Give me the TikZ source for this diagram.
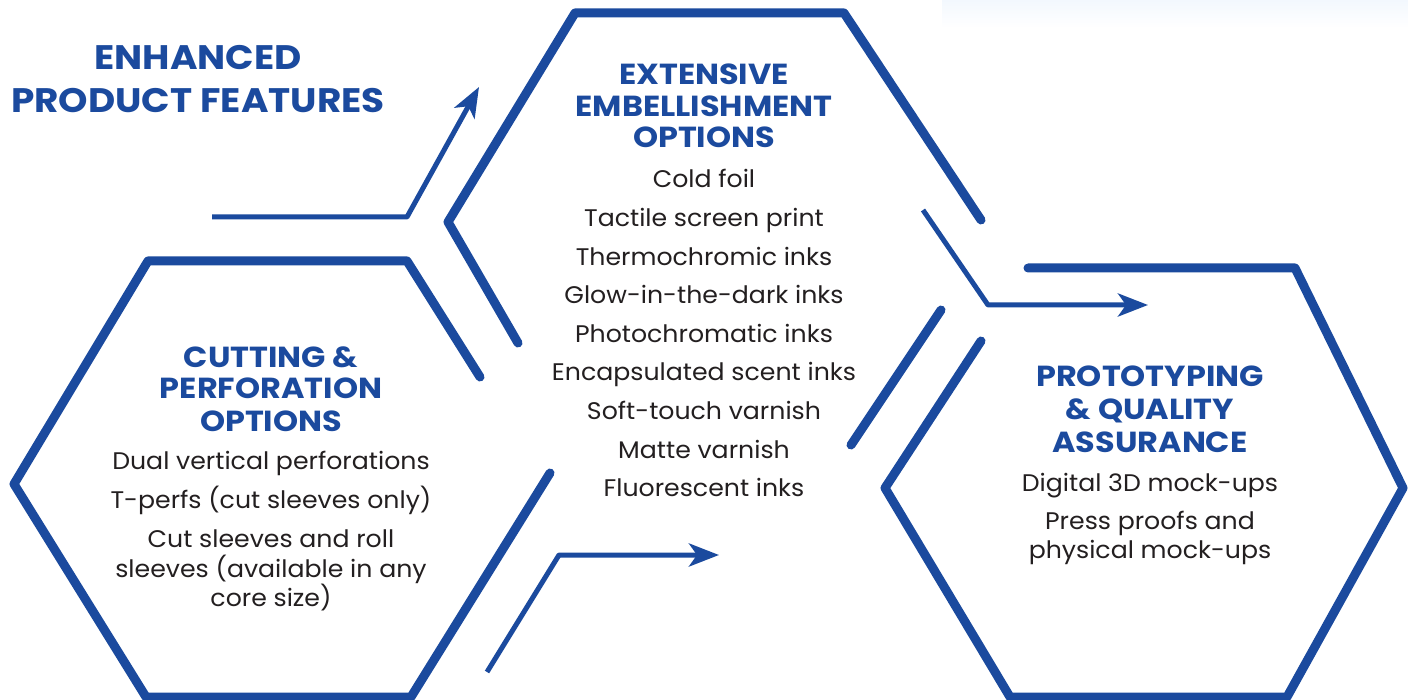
\documentclass[tikz,border=0pt]{standalone}
\usepackage{fontspec}
\setmainfont{Poppins}[FakeStretch=1.05]
\newfontfamily\headfont{Poppins}[FakeStretch=1.1]
\usetikzlibrary{arrows.meta}
\definecolor{brandblue}{RGB}{27,74,158}
\definecolor{inktext}{RGB}{35,31,32}
\definecolor{paleblue}{RGB}{243,248,254}
\tikzset{
  hexline/.style={draw=brandblue, line width=9pt, line cap=round, line join=round},
  flowarrow/.style={draw=brandblue, line width=5pt, line join=round, -{Stealth[length=30pt,width=23pt,inset=8pt]}},
  titletxt/.style={anchor=base, text=brandblue, inner sep=0pt, font=\headfont\bfseries\fontsize{34}{34}\selectfont},
  headtxt/.style={anchor=base, text=brandblue, inner sep=0pt, font=\headfont\bfseries\fontsize{29}{29}\selectfont},
  bodytxt/.style={anchor=base, text=inktext, inner sep=0pt, font=\fontsize{24}{24}\selectfont}
}
\begin{document}
\begin{tikzpicture}[x=1pt,y=-1pt]
\useasboundingbox (0,0) rectangle (1408,700);
\fill[white] (0,0) rectangle (1408,700);
\shade[top color=paleblue, bottom color=white] (942,0) rectangle (1408,28);

% ---------- title ----------
\node[titletxt] (title1) at (198,70) {ENHANCED};
\node[titletxt] (title2) at (198,113) {PRODUCT FEATURES};

% ---------- hexagon corner points ----------
% left hexagon
\coordinate (La) at (480,377);
\coordinate (Lb) at (407,261);
\coordinate (Lc) at (148,261);
\coordinate (Ld) at (14,484);
\coordinate (Le) at (146,697);
\coordinate (Lf) at (411,697);
\coordinate (Lg) at (550,473);
% middle hexagon
\coordinate (Ma) at (518,343);
\coordinate (Mb) at (448,222);
\coordinate (Mc) at (575,13);
\coordinate (Md) at (844,13);
\coordinate (Me) at (981,220);
\coordinate (Mf) at (941,310);
\coordinate (Mg) at (851,445);
% right hexagon
\coordinate (Ra) at (981,341);
\coordinate (Rb) at (885,488);
\coordinate (Rc) at (1010,697);
\coordinate (Rd) at (1287,697);
\coordinate (Re) at (1403,488);
\coordinate (Rf) at (1295,268);
\coordinate (Rg) at (1028,268);

\draw[hexline] (La) -- (Lb) -- (Lc) -- (Ld) -- (Le) -- (Lf) -- (Lg);
\draw[hexline] (Ma) -- (Mb) -- (Mc) -- (Md) -- (Me);
\draw[hexline] (Mf) -- (Mg);
\draw[hexline] (Ra) -- (Rb) -- (Rc) -- (Rd) -- (Re) -- (Rf) -- (Rg);

% ---------- arrows ----------
\coordinate (A1s) at (212,217);
\coordinate (A1k) at (407,217);
\coordinate (A1t) at (479,87);
\coordinate (A2s) at (923,210);
\coordinate (A2k) at (988,305);
\coordinate (A2t) at (1148,305);
\coordinate (A3s) at (487,672);
\coordinate (A3k) at (559,555);
\coordinate (A3t) at (719,555);
\draw[flowarrow] (A1s) -- (A1k) -- (A1t);
\draw[flowarrow] (A2s) -- (A2k) -- (A2t);
\draw[flowarrow] (A3s) -- (A3k) -- (A3t);

% ---------- middle block ----------
\node[headtxt] (mh1) at (704,85) {EXTENSIVE};
\node[headtxt] (mh2) at (704,117) {EMBELLISHMENT};
\node[headtxt] (mh3) at (704,148) {OPTIONS};
\node[bodytxt] (mb1) at (704,188) {Cold foil};
\node[bodytxt] (mb2) at (704,226.6) {Tactile screen print};
\node[bodytxt] (mb3) at (704,265.2) {Thermochromic inks};
\node[bodytxt] (mb4) at (704,303.8) {Glow-in-the-dark inks};
\node[bodytxt] (mb5) at (704,342.4) {Photochromatic inks};
\node[bodytxt] (mb6) at (704,381) {Encapsulated scent inks};
\node[bodytxt] (mb7) at (704,419.6) {Soft-touch varnish};
\node[bodytxt] (mb8) at (704,458.2) {Matte varnish};
\node[bodytxt] (mb9) at (704,496.8) {Fluorescent inks};

% ---------- left block ----------
\node[headtxt] (lh1) at (271,367) {CUTTING \&};
\node[headtxt] (lh2) at (271,399) {PERFORATION};
\node[headtxt] (lh3) at (271,431) {OPTIONS};
\node[bodytxt] (lb1) at (271,469) {Dual vertical perforations};
\node[bodytxt] (lb2) at (271,508) {T-perfs (cut sleeves only)};
\node[bodytxt] (lb3) at (271,547) {Cut sleeves and roll};
\node[bodytxt] (lb4) at (271,577) {sleeves (available in any};
\node[bodytxt] (lb5) at (271,606) {core size)};

% ---------- right block ----------
\node[headtxt] (rh1) at (1150,387) {PROTOTYPING};
\node[headtxt] (rh2) at (1150,419) {\& QUALITY};
\node[headtxt] (rh3) at (1150,452) {ASSURANCE};
\node[bodytxt] (rb1) at (1150,491) {Digital 3D mock-ups};
\node[bodytxt] (rb2) at (1150,529) {Press proofs and};
\node[bodytxt] (rb3) at (1150,558) {physical mock-ups};
\end{tikzpicture}
\end{document}
